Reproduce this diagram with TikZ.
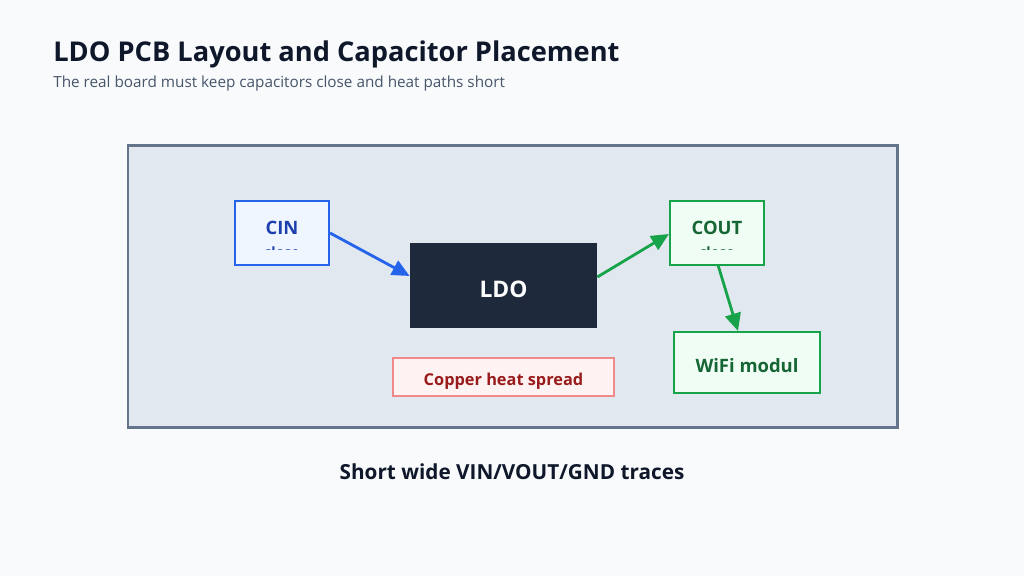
\documentclass[tikz,border=0pt]{standalone}
\usepackage{fontspec}
\setmainfont{Open Sans}
\usetikzlibrary{arrows.meta}

\definecolor{bgpage}{HTML}{F8FAFC}
\definecolor{boardfill}{HTML}{E2E8F0}
\definecolor{boardline}{HTML}{64748B}
\definecolor{ink}{HTML}{0F172A}
\definecolor{subink}{HTML}{475569}
\definecolor{capblue}{HTML}{2563EB}
\definecolor{capbluefill}{HTML}{EFF6FF}
\definecolor{capbluetext}{HTML}{1E40AF}
\definecolor{capgreen}{HTML}{16A34A}
\definecolor{capgreenfill}{HTML}{F0FDF4}
\definecolor{capgreentext}{HTML}{166534}
\definecolor{ldofill}{HTML}{1E293B}
\definecolor{heatline}{HTML}{F08A8A}
\definecolor{heatfill}{HTML}{FEF2F2}
\definecolor{heattext}{HTML}{991B1B}

\begin{document}
\begin{tikzpicture}
  [x=0.02cm,y=-0.02cm,
   part/.style={draw,line width=1.2pt,inner sep=0pt,font=\bfseries\fontsize{10.5}{12}\selectfont},
   bluepart/.style={part,draw=capblue,fill=capbluefill,text=capbluetext},
   greenpart/.style={part,draw=capgreen,fill=capgreenfill,text=capgreentext},
   link/.style={line width=1.6pt,-{Triangle[length=10pt,width=9pt]}}]
  \useasboundingbox[fill=bgpage] (0,0) rectangle (1024,576);

  % heading
  \node[anchor=base west,inner sep=0pt,text=ink,font=\bfseries\fontsize{15.5}{18}\selectfont] (title) at (53,61) {LDO PCB Layout and Capacitor Placement};
  \node[anchor=base west,inner sep=0pt,text=subink,font=\fontsize{8.7}{10}\selectfont] (sub) at (53,87) {The real board must keep capacitors close and heat paths short};

  % board outline
  \node[draw=boardline,fill=boardfill,line width=1.7pt,minimum width=769*0.02cm,minimum height=282*0.02cm,inner sep=0pt] (board) at (512.5,286) {};

  % parts on the board
  \node[bluepart,minimum width=94*0.02cm,minimum height=64*0.02cm] (cin) at (282,233) {};
  \node[greenpart,minimum width=94*0.02cm,minimum height=64*0.02cm] (cout) at (717,233) {};
  \node[fill=ldofill,text=white,inner sep=0pt,minimum width=187*0.02cm,minimum height=85*0.02cm] (ldo) at (503.5,285.5) {};
  \node[anchor=base,inner sep=0pt,text=white,font=\bfseries\fontsize{13}{15}\selectfont] (ldolbl) at (503.5,297) {LDO};
  \node[draw=heatline,fill=heatfill,line width=1pt,inner sep=0pt,minimum width=221*0.02cm,minimum height=38*0.02cm] (heat) at (503.5,377) {};
  \node[anchor=base,inner sep=0pt,text=heattext,font=\bfseries\fontsize{9.3}{11}\selectfont] (heatlbl) at (503.5,385) {Copper heat spread};
  \node[greenpart,minimum width=146*0.02cm,minimum height=61*0.02cm] (wifi) at (747,362.5) {};
  \node[anchor=base,inner sep=0pt,text=capgreentext,font=\bfseries\fontsize{10.5}{12}\selectfont] (wifilbl) at (747,372) {WiFi modul};

  % capacitor labels, second line cut off by the box
  \node[anchor=base,inner sep=0pt,text=capbluetext,font=\bfseries\fontsize{10.5}{12}\selectfont] (cinlbl) at (282,234) {CIN};
  \node[anchor=base,inner sep=0pt,text=capgreentext,font=\bfseries\fontsize{10.5}{12}\selectfont] (coutlbl) at (717,234) {COUT};
  \begin{scope}
    \clip (240,238) rectangle (325,249.5);
    \node[anchor=base,inner sep=0pt,text=capbluetext,font=\bfseries\fontsize{8}{10}\selectfont] (cinnote) at (282,257.5) {close};
  \end{scope}
  \begin{scope}
    \clip (675,238) rectangle (760,249.5);
    \node[anchor=base,inner sep=0pt,text=capgreentext,font=\bfseries\fontsize{8}{10}\selectfont] (coutnote) at (717,257.5) {close};
  \end{scope}

  % traces
  \draw[link,capblue] (cin.east |- 0,233) -- (ldo.west |- 0,276);
  \draw[link,capgreen] (ldo.east |- 0,277) -- (cout.west |- 0,234);
  \draw[link,capgreen] (718,265) -- (wifi.north -| 738,0);

  \node[anchor=base,inner sep=0pt,text=ink,font=\bfseries\fontsize{11.8}{14}\selectfont] (foot) at (512,479) {Short wide VIN/VOUT/GND traces};
\end{tikzpicture}
\end{document}
